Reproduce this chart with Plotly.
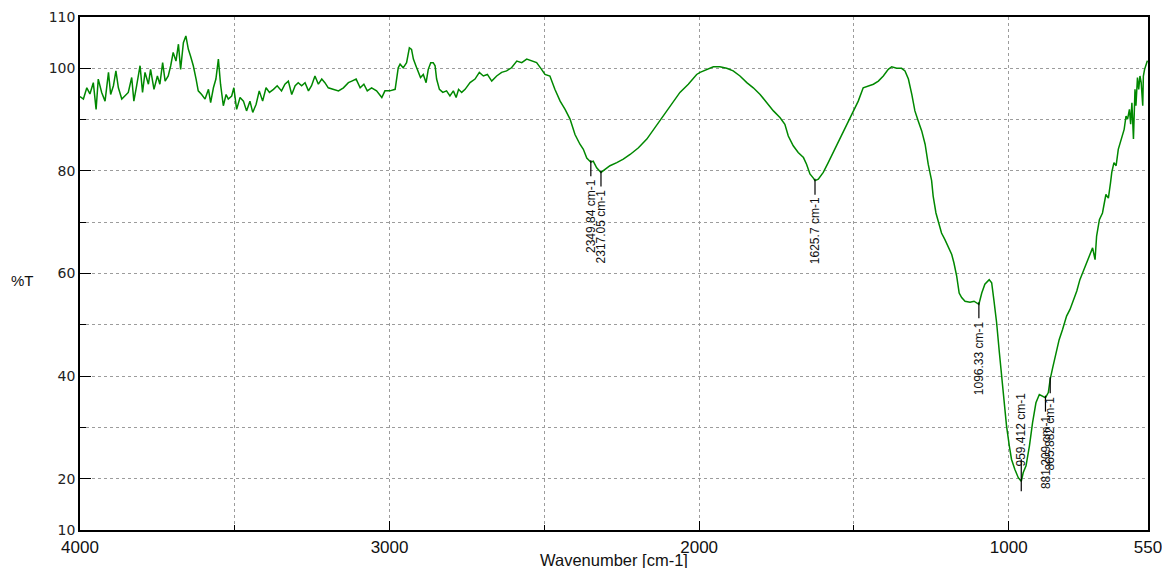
import plotly.graph_objects as go

# ---- spectrum data (wavenumber in cm-1, transmittance %T) ----
wn_a = [4000, 3989, 3978, 3968, 3957, 3948, 3941, 3930, 3919, 3908,
        3901, 3892, 3884, 3876, 3865, 3855, 3844, 3833, 3826, 3817,
        3806, 3798, 3790, 3779, 3772, 3761, 3750, 3742, 3733, 3725,
        3715, 3707, 3699, 3690, 3682, 3675, 3666, 3658, 3650, 3643,
        3634, 3625, 3618, 3607, 3596, 3585, 3578, 3569, 3561, 3553,
        3546, 3537, 3528, 3521, 3510, 3503, 3494, 3483, 3472, 3462,
        3451, 3442, 3431, 3421, 3410, 3399, 3388, 3375, 3363, 3349,
        3338, 3327, 3316, 3305, 3295, 3284, 3273, 3262, 3252, 3241,
        3230, 3219, 3209, 3198, 3182, 3165, 3149, 3133, 3122, 3108,
        3095, 3083, 3072, 3058, 3042, 3025, 3015, 2999, 2982, 2972]
t_a = [94.5, 94.0, 96.2, 95.0, 97.2, 92.0, 97.9, 95.3, 93.6, 99.2,
       94.9, 96.6, 99.5, 96.2, 94.0, 94.6, 95.3, 98.2, 93.6, 96.6,
       100.5, 95.3, 99.2, 96.9, 99.8, 95.9, 98.5, 96.9, 101.1, 97.5,
       98.5, 100.5, 103.1, 101.4, 104.7, 99.8, 105.0, 106.3, 103.7, 102.4,
       100.5, 97.9, 95.6, 94.9, 94.0, 95.9, 93.3, 96.2, 97.9, 101.8,
       96.9, 92.7, 94.9, 94.0, 94.6, 96.2, 92.0, 94.3, 93.6, 91.7,
       93.6, 91.4, 93.0, 95.6, 93.6, 96.2, 95.3, 95.9, 96.6, 95.6,
       96.9, 97.5, 94.9, 96.6, 97.2, 96.6, 97.2, 95.6, 96.6, 98.5,
       96.9, 97.9, 97.2, 96.2, 95.9, 95.6, 96.2, 97.2, 97.5, 97.9,
       96.2, 96.9, 95.6, 96.2, 95.6, 94.3, 95.6, 95.6, 95.9, 100.1]

wn_b = [2966, 2956, 2945, 2936, 2929, 2923, 2915, 2907, 2900, 2891,
        2882, 2875, 2867, 2859, 2853, 2848, 2839, 2828, 2816, 2805,
        2794, 2785, 2777, 2767, 2756, 2740, 2724, 2710, 2697, 2684,
        2670, 2654, 2638, 2622, 2606, 2589, 2573, 2557, 2541, 2525,
        2509, 2498, 2482, 2466, 2449, 2433, 2417, 2401, 2385, 2374,
        2363, 2349.84, 2342, 2331, 2317.05, 2304, 2288, 2266, 2245, 2223,
        2196, 2169, 2143, 2116, 2089, 2062, 2035, 2008]
t_b = [100.8, 100.1, 101.1, 104.0, 103.7, 101.8, 100.5, 99.2, 98.2, 98.8,
       97.2, 99.8, 101.1, 101.1, 100.5, 97.9, 95.9, 95.3, 95.6, 94.6,
       95.6, 94.3, 95.9, 95.3, 95.9, 97.2, 97.9, 99.2, 98.5, 98.8,
       97.5, 98.5, 99.2, 99.5, 100.1, 101.4, 101.1, 101.8, 101.4, 101.1,
       99.8, 98.8, 98.5, 95.9, 93.6, 92.0, 90.1, 87.1, 85.2, 84.2,
       82.5, 81.7, 81.9, 80.6, 79.7, 80.3, 81.0, 81.6, 82.3, 83.2,
       84.5, 86.2, 88.4, 90.7, 93.0, 95.3, 96.9, 98.8]

wn_c = [1997, 1976, 1954, 1933, 1911, 1890, 1868, 1846, 1825, 1803,
        1782, 1760, 1739, 1723, 1712, 1696, 1680, 1663, 1653, 1642,
        1631, 1625.7, 1615, 1599, 1583, 1567, 1550, 1534, 1518, 1502,
        1486, 1470, 1453, 1437, 1421, 1405, 1389, 1378, 1362, 1346,
        1335, 1324, 1313, 1303, 1292, 1281, 1270, 1260]
t_c = [99.2, 99.8, 100.3, 100.3, 100.0, 99.5, 98.5, 97.2, 96.2, 94.9,
       93.3, 91.7, 90.4, 89.1, 86.8, 84.9, 83.6, 82.6, 81.3, 79.4,
       78.6, 78.1, 78.4, 79.7, 81.6, 83.6, 85.5, 87.5, 89.4, 91.4,
       93.6, 96.2, 96.6, 96.9, 97.5, 98.5, 99.8, 100.3, 100.0, 100.0,
       99.5, 97.9, 94.9, 91.7, 89.7, 87.8, 85.2, 81.3]

wn_d = [1249, 1244, 1235, 1227, 1217, 1206, 1195, 1184, 1177, 1168,
        1160, 1152, 1141, 1125, 1112, 1096.33, 1087, 1077, 1063, 1055,
        1048, 1039, 1030, 1023, 1015, 1007, 998, 991, 980, 969,
        959.412, 953, 944, 933, 923, 912, 901, 888, 881.209, 872,
        865.882, 858, 847, 837, 826, 813, 802, 791, 780, 770,
        759, 748, 737, 729, 721, 716, 707, 697, 686, 678,
        671]
t_d = [78.1, 75.1, 71.8, 69.9, 67.9, 66.6, 65.0, 63.7, 62.1, 59.5,
       56.2, 55.3, 54.6, 54.4, 54.6, 54.0, 56.2, 57.9, 58.8, 58.2,
       54.9, 50.4, 44.5, 40.0, 36.1, 30.3, 26.4, 23.8, 21.8, 20.2,
       19.5, 21.2, 22.5, 26.4, 30.9, 34.8, 36.4, 36.1, 35.8, 36.8,
       39.4, 41.6, 44.5, 47.1, 49.1, 51.7, 53.0, 54.9, 56.6, 58.8,
       60.5, 62.1, 63.7, 65.0, 62.7, 67.3, 70.5, 71.8, 75.4, 74.7,
       77.7]

wn_e = [667, 660, 653, 646, 638, 632, 627, 621, 616, 610,
        606, 602, 597, 592, 589, 584, 580, 576, 572, 567,
        565, 561, 556, 552]
t_e = [79.7, 81.6, 81.0, 84.2, 85.8, 86.8, 88.1, 90.7, 90.1, 92.0,
       89.1, 93.3, 86.2, 95.9, 92.7, 98.2, 95.9, 98.5, 97.2, 92.7,
       98.5, 99.8, 100.8, 101.5]

# ---- labelled peaks ----
peak_wn = [2349.84, 2317.05, 1625.7, 1096.33, 959.412, 881.209, 865.882]
peak_t = [81.7, 79.7, 78.1, 54.0, 19.5, 35.8, 39.4]
peak_labels = ["2349.84 cm-1", "2317.05 cm-1", "1625.7 cm-1", "1096.33 cm-1",
               "959.412 cm-1", "881.209 cm-1", "865.882 cm-1"]
peak_above = [False, False, False, False, True, False, False]

# ---- axis ticks ----
x_major = [4000, 3000, 2000, 1000, 550]
x_minor = [3500, 2500, 1500]
y_major = [10, 20, 40, 60, 80, 100, 110]
y_minor = [30, 50, 70, 90]

wn = wn_a + wn_b + wn_c + wn_d + wn_e
tr = t_a + t_b + t_c + t_d + t_e

fig = go.Figure()
fig.add_trace(go.Scatter(x=wn, y=tr, mode="lines",
                         line=dict(color="#008800", width=1.5),
                         hoverinfo="x+y", showlegend=False))

# short vertical marker lines at labelled peaks (offsets in data units)
px_per_unit = 5.135
mx, my = [], []
for w, t, up in zip(peak_wn, peak_t, peak_above):
    if up:
        top, bot = t + 22 / px_per_unit, t - 10 / px_per_unit
    else:
        top, bot = t + 2 / px_per_unit, t - 14 / px_per_unit
    mx += [w, w, None]
    my += [top, bot, None]
fig.add_trace(go.Scatter(x=mx, y=my, mode="lines",
                         line=dict(color="black", width=1.2),
                         hoverinfo="skip", showlegend=False))

narrow = "Liberation Sans Narrow, Arial Narrow, sans-serif"
label_font = dict(family=narrow, size=12, color="#111")
for w, t, lab, up in zip(peak_wn, peak_t, peak_labels, peak_above):
    fig.add_annotation(x=w, y=t, text=lab, showarrow=False, textangle=-90,
                       xanchor="center", yanchor="bottom" if up else "top",
                       yshift=13 if up else -15, font=label_font)

fig.add_annotation(xref="paper", yref="paper", x=-0.054, y=0.487, text="%T",
                   showarrow=False, xanchor="center", yanchor="middle",
                   font=dict(family="Liberation Sans, Arial, sans-serif", size=15, color="#111"))

# x-axis title
fig.add_annotation(xref="paper", yref="paper", x=0.5, y=0, text="Wavenumber [cm-1]",
                   showarrow=False, xanchor="center", yanchor="middle", yshift=-30,
                   font=dict(family=narrow, size=16.5, color="#111"))

grid = dict(gridcolor="#9c9c9c", gridwidth=1, griddash="dot")

fig.update_xaxes(range=[4000, 550], tickmode="array", tickvals=x_major,
                 ticktext=[str(v) for v in x_major], automargin=False,
                 ticklabeloverflow="allow", ticklabelstandoff=1,
                 showline=True, linecolor="black", linewidth=1.6, mirror=True,
                 ticks="inside", ticklen=9, tickwidth=1.2, tickcolor="black",
                 showgrid=True, **grid, zeroline=False,
                 minor=dict(tickmode="array", tickvals=x_minor, ticks="inside",
                            ticklen=5, tickcolor="black", showgrid=True, **grid),
                 tickfont=dict(family=narrow, size=17, color="#111"))

fig.update_yaxes(range=[10, 110], tickmode="array", tickvals=y_major,
                 ticktext=[str(v) for v in y_major], automargin=False,
                 ticklabeloverflow="allow",
                 showline=True, linecolor="black", linewidth=1.6, mirror=True,
                 ticks="inside", ticklen=11, tickwidth=1.2, tickcolor="black",
                 showgrid=True, **grid, zeroline=False,
                 minor=dict(tickmode="array", tickvals=y_minor, ticks="inside",
                            ticklen=6, tickcolor="black", showgrid=True, **grid),
                 tickfont=dict(family="DejaVu Sans, sans-serif", size=14, color="#222"))

fig.update_layout(width=1162, height=568,
                  margin=dict(l=80, r=14, t=17, b=38, pad=0),
                  paper_bgcolor="white", plot_bgcolor="white",
                  showlegend=False)

# remove the default 8px page margin so the figure fills the window exactly
fig.write_html("out.html", config={"displayModeBar": False},
               post_script="document.body.style.margin='0px';")
